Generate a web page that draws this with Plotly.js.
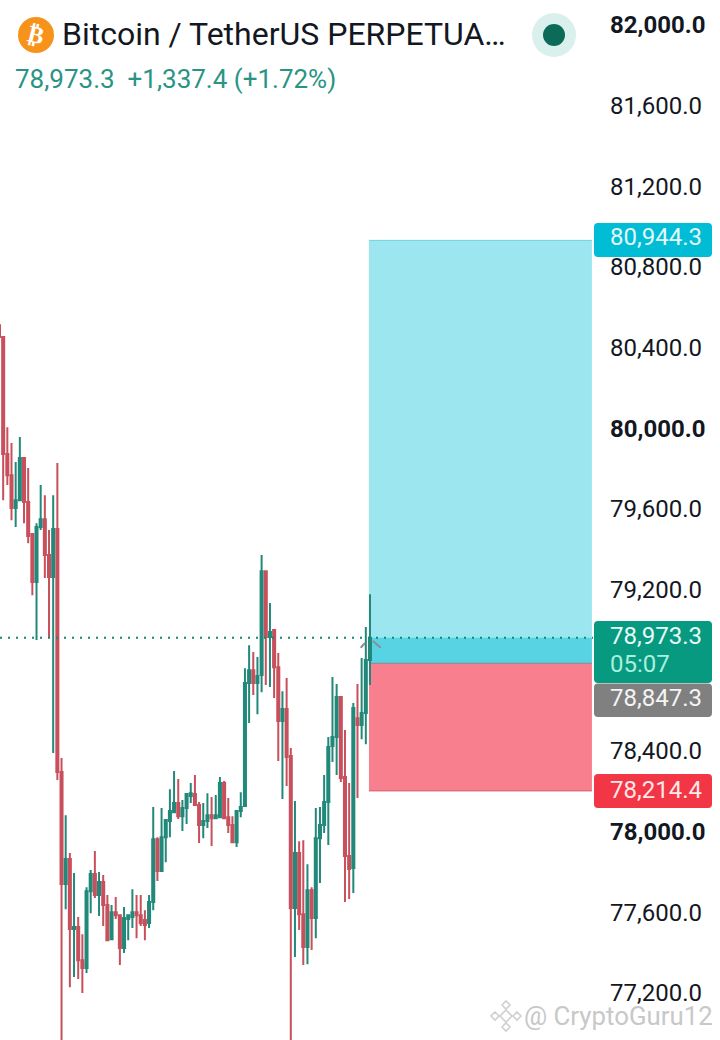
<!DOCTYPE html>
<html><head><meta charset="utf-8">
<script src="https://cdn.plot.ly/plotly-3.0.1.min.js"></script>
<style>html,body{margin:0;padding:0;background:#fff}#c{width:720px;height:1040px}</style>
</head><body><div id="c"></div>
<script>
const opens=[80524,80465,79885,79780,79617,79656,79865,79647,79488,79250,79523,79562,79384,79275,79513,78308,77752,77876,77529,77539,77375,77336,77717,77802,77698,77762,77648,77479,77613,77598,77435,77579,77589,77613,77598,77574,77559,77663,77975,77817,77985,78065,78109,78154,78089,78129,78189,78199,78144,78045,78065,78094,78079,78084,78253,78084,78045,77960,78114,78139,78749,78813,78749,78789,79304,78977,79012,78828,78561,78620,78387,77633,77906,77603,77440,77722,77584,77980,78045,78159,78437,78481,78680,78283,77891,77832,78575,78541,78600,78863];
const highs=[80534,80465,80018,79939,79845,79969,79865,79815,79488,79542,79731,79681,79508,79681,79840,78377,78094,77906,77807,77589,77504,77737,77822,77916,77812,77797,77698,77648,77688,77598,77638,77598,77727,77698,77698,77623,77698,78134,77985,78129,78070,78223,78313,78273,78169,78203,78253,78293,78159,78154,78203,78184,78194,78283,78263,78179,78089,78119,78208,78823,78937,78903,78878,79384,79304,79146,79012,78898,78709,78774,78427,78164,77965,77970,77851,77737,78129,78134,78293,78481,78779,78744,78680,78516,78253,78650,78744,78873,79027,79190];
const lows=[80465,79656,79731,79557,79523,79656,79542,79443,79185,78962,79508,79270,78972,78402,78268,76954,77628,77241,77291,77281,77212,77311,77608,77683,77594,77544,77474,77479,77579,77351,77410,77474,77534,77484,77544,77474,77534,77623,77767,77817,77861,77985,78109,78075,78015,78050,78154,78144,77956,77980,78030,77941,78079,78084,78079,78005,77956,77936,78084,78139,78551,78690,78595,78704,78739,78729,78675,78362,78174,78238,76954,77390,77524,77351,77355,77425,77484,77757,78005,77946,78357,78293,78258,77663,77678,77708,78179,78471,78446,78739];
const closes=[80465,79885,79780,79617,79656,79865,79647,79478,79250,79523,79562,79384,79275,79513,78308,77752,77876,77529,77539,77375,77336,77717,77802,77698,77762,77648,77474,77613,77598,77435,77584,77598,77613,77598,77559,77549,77663,77975,77817,77985,78070,78114,78154,78089,78129,78199,78203,78144,78045,78065,78094,78079,78094,78253,78079,78045,77960,78114,78134,78749,78813,78749,78784,79304,78977,79002,78828,78561,78620,78382,77633,77906,77603,77440,77722,77584,77980,78045,78159,78432,78481,78680,78278,77891,77827,78625,78541,78600,78863,78973.3];
const candleIndex=opens.map((_,i)=>i);

const lastPrice=78973.3, targetPrice=80944.3, entryPrice=78847.3, stopPrice=78214.4;
const tickValues=[82000,81600,81200,80800,80400,80000,79600,79200,78400,78000,77600,77200];
const tickLabels=['<b>82,000.0</b>','81,600.0','81,200.0','80,800.0','80,400.0','<b>80,000.0</b>','79,600.0','79,200.0','78,400.0','<b>78,000.0</b>','77,600.0','77,200.0'];

const W=593,H=1040,F='Roboto, sans-serif';
const px=x=>x/W, py=y=>1-y/H;
const roundRect=(x0,y0,x1,y1,r,fill)=>({type:'path',xref:'paper',yref:'paper',layer:'above',line:{width:0},fillcolor:fill,
  path:`M ${px(x0+r)} ${py(y0)} L ${px(x1-r)} ${py(y0)} Q ${px(x1)} ${py(y0)} ${px(x1)} ${py(y0+r)} L ${px(x1)} ${py(y1-r)} Q ${px(x1)} ${py(y1)} ${px(x1-r)} ${py(y1)} L ${px(x0+r)} ${py(y1)} Q ${px(x0)} ${py(y1)} ${px(x0)} ${py(y1-r)} L ${px(x0)} ${py(y0+r)} Q ${px(x0)} ${py(y0)} ${px(x0+r)} ${py(y0)} Z`});
const circle=(cx,cy,r,fill)=>({type:'circle',xref:'paper',yref:'paper',layer:'above',line:{width:0},fillcolor:fill,x0:px(cx-r),x1:px(cx+r),y0:py(cy+r),y1:py(cy-r)});
const diamond=(cx,cy,r)=>({type:'path',xref:'paper',yref:'paper',layer:'above',line:{width:1.6,color:'#d0d0d0'},
  path:`M ${px(cx)} ${py(cy-r)} L ${px(cx+r)} ${py(cy)} L ${px(cx)} ${py(cy+r)} L ${px(cx-r)} ${py(cy)} Z`});
const segment=(x0,y0,x1,y1)=>({type:'line',xref:'paper',yref:'paper',layer:'above',line:{width:2,color:'#8a8f94'},x0:px(x0),y0:py(y0),x1:px(x1),y1:py(y1)});
const label=(x,y,text,size,color,extra)=>Object.assign({xref:'paper',yref:'paper',x:px(x),y:py(y),text,showarrow:false,xanchor:'left',yanchor:'middle',
  font:{family:F,size,color},borderpad:0},extra||{});

const xL=88.75,xR=142.24;
const shapes=[
 {type:'rect',xref:'x',yref:'y',layer:'below',x0:xL,x1:xR,y0:entryPrice,y1:targetPrice,fillcolor:'#9ce6ef',line:{width:0}},
 {type:'rect',xref:'x',yref:'y',layer:'below',x0:xL,x1:xR,y0:entryPrice,y1:lastPrice,fillcolor:'#58d3e4',line:{width:0}},
 {type:'rect',xref:'x',yref:'y',layer:'below',x0:xL,x1:xR,y0:stopPrice,y1:entryPrice,fillcolor:'#f77f8e',line:{width:0}},
 {type:'line',xref:'x',yref:'y',layer:'below',x0:xL,x1:xR,y0:targetPrice,y1:targetPrice,line:{width:1,color:'#6fd3df'}},
 {type:'line',xref:'x',yref:'y',layer:'below',x0:xL,x1:xR,y0:entryPrice,y1:entryPrice,line:{width:1.2,color:'#7f8a90'}},
 {type:'line',xref:'x',yref:'y',layer:'below',x0:xL,x1:xR,y0:stopPrice,y1:stopPrice,line:{width:1,color:'#d0606c'}},
 {type:'line',xref:'paper',yref:'y',layer:'above',x0:0,x1:1,y0:lastPrice,y1:lastPrice,line:{width:2,color:'#0f8a75',dash:'2px,6px'}},
 segment(360.7,647.7,365,643),segment(373,641,380.7,647.7),
 circle(36,35,18,'#f7931a'),circle(554,35,22,'#daf0ed'),circle(554,35,11,'#0b6b58'),
 roundRect(594,223,712,257,4,'#00bcd4'),
 roundRect(594,621,712,683,4,'#089981'),
 roundRect(594,683.5,712,717,4,'#808080'),
 roundRect(594,774,712,808,4,'#f23645'),
 diamond(506,1016,6),diamond(495,1016,4),diamond(517,1016,4),diamond(506,1005,4),diamond(506,1027,4)
];
const annotations=[
 label(36,35,'<b>₿</b>',24,'#ffffff',{xanchor:'center',textangle:14,font:{family:'DejaVu Sans',size:24,color:'#fff'}}),
 label(61,34,'Bitcoin / TetherUS PERPETUA…',32,'#131722'),
 label(14,79,'78,973.3&nbsp;&nbsp;+1,337.4 (+1.72%)',26,'#2a9484'),
 label(609,237,'80,944.3',24,'#e3f8fb'),
 label(609,636,'78,973.3',24,'#e8fbf6'),
 label(609,664,'05:07',24,'#a8f0de'),
 label(609,698,'78,847.3',24,'#f4f4f4'),
 label(609,790,'78,214.4',24,'#fde8ea'),
 label(523,1016,'@ CryptoGuru12',25.8,'#c8c8c8')
];
const trace={type:'candlestick',x:candleIndex,open:opens,high:highs,low:lows,close:closes,whiskerwidth:0,
 increasing:{line:{color:'#22897a',width:2},fillcolor:'#22897a'},
 decreasing:{line:{color:'#c8505c',width:2},fillcolor:'#c8505c'},hoverinfo:'skip',showlegend:false};
const labelAxisHolder={type:'scatter',mode:'none',x:[candleIndex[0]],y:[tickValues[0]],yaxis:'y2',hoverinfo:'skip',showlegend:false};
const layout={width:720,height:1040,margin:{l:0,r:127,t:0,b:0},paper_bgcolor:'#fff',plot_bgcolor:'#fff',showlegend:false,dragmode:false,
 xaxis:{range:[0.24,142.5],visible:false,rangeslider:{visible:false},fixedrange:true},
 yaxis:{side:'right',range:[76979,82136.4],showticklabels:false,showgrid:false,zeroline:false,showline:false,ticks:'',fixedrange:true,automargin:false},
 yaxis2:{side:'right',overlaying:'y',range:[76966.6,82124],tickmode:'array',tickvals:tickValues,ticktext:tickLabels,showgrid:false,zeroline:false,showline:false,ticks:'',ticklabelstandoff:16,
  tickfont:{family:F,size:24,color:'#131722'},fixedrange:true,automargin:false},
 shapes,annotations};
Plotly.newPlot('c',[trace,labelAxisHolder],layout,{displayModeBar:false,staticPlot:true});
</script></body></html>
